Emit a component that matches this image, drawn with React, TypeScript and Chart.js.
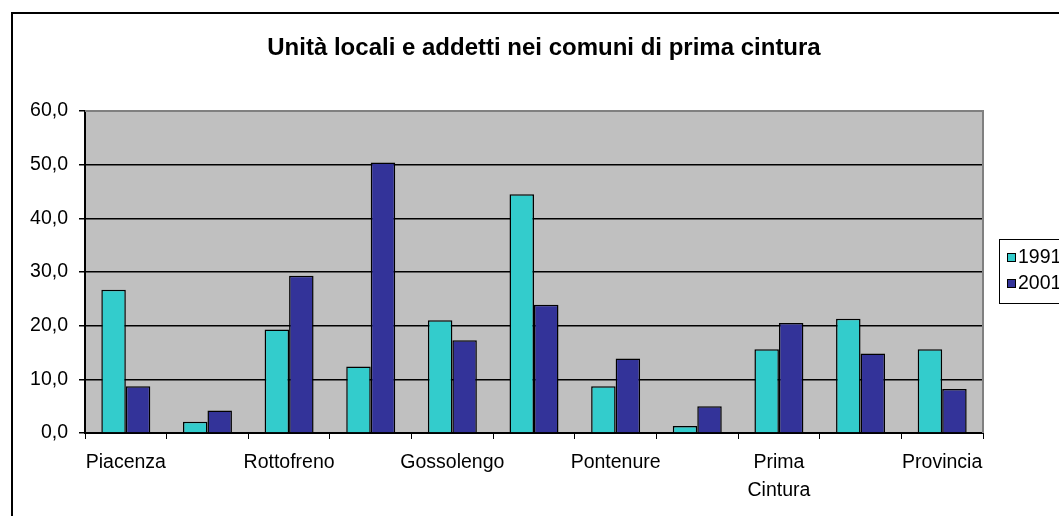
import React, { useEffect, useRef } from "react";
import { Chart, registerables } from "chart.js";

Chart.register(...registerables);

const TITLE = "Unità locali e addetti nei comuni di prima cintura";
const categories: (string | string[])[] = [
  "Piacenza",
  "",
  "Rottofreno",
  "",
  "Gossolengo",
  "",
  "Pontenure",
  "",
  ["Prima", "Cintura"],
  "",
  "Provincia",
];
const series1991 = [26.7, 2.1, 19.3, 12.4, 21.0, 44.5, 8.7, 1.3, 15.6, 21.3, 15.6];
const series2001 = [8.7, 4.2, 29.3, 50.4, 17.3, 23.9, 13.9, 5.0, 20.5, 14.8, 8.2];
const seriesLabels = ["1991", "2001"];
const seriesColors = ["#33CCCC", "#333399"];
const yTicks = [0, 10, 20, 30, 40, 50, 60];

const FONT = "'Liberation Sans', Arial, sans-serif";
const LABEL_SIZE = 19.5;

const plotBgPlugin = {
  id: "plotBg",
  beforeDraw(chart: any) {
    const { ctx, chartArea } = chart;
    ctx.save();
    ctx.fillStyle = "#C0C0C0";
    ctx.fillRect(chartArea.left, chartArea.top, chartArea.right - chartArea.left, chartArea.bottom - chartArea.top);
    ctx.restore();
  },
  afterDraw(chart: any) {
    const { ctx, chartArea } = chart;
    ctx.save();
    ctx.strokeStyle = "#808080";
    ctx.lineWidth = 2;
    ctx.beginPath();
    ctx.moveTo(chartArea.left, chartArea.top);
    ctx.lineTo(chartArea.right, chartArea.top);
    ctx.lineTo(chartArea.right, chartArea.bottom);
    ctx.stroke();
    // title, centred on the whole chart object
    ctx.fillStyle = "#000";
    ctx.font = `bold 24px ${FONT}`;
    ctx.textAlign = "center";
    ctx.textBaseline = "middle";
    ctx.fillText(TITLE, chart.width / 2, 34);
    ctx.restore();
  },
};

const legendPlugin = {
  id: "customLegend",
  afterDraw(chart: any) {
    const { ctx } = chart;
    const x = 986;
    const y = 225;
    ctx.save();
    ctx.fillStyle = "#fff";
    ctx.fillRect(x, y, 100, 64);
    ctx.strokeStyle = "#000";
    ctx.lineWidth = 1;
    ctx.strokeRect(x + 0.5, y + 0.5, 100, 64);
    chart.data.datasets.forEach((ds: any, i: number) => {
      const cy = 243 + i * 26;
      ctx.fillStyle = ds.backgroundColor;
      ctx.fillRect(994, cy - 4, 8, 8);
      ctx.strokeStyle = "#000";
      ctx.strokeRect(994.5, cy - 3.5, 8, 8);
      ctx.fillStyle = "#000";
      ctx.font = `${LABEL_SIZE}px ${FONT}`;
      ctx.textBaseline = "middle";
      ctx.textAlign = "left";
      ctx.fillText(ds.label, 1005, cy + 1);
    });
    ctx.restore();
  },
};

export default function App() {
  const ref = useRef<HTMLCanvasElement | null>(null);

  useEffect(() => {
    if (!ref.current) return;
    const chart = new Chart(ref.current, {
      type: "bar",
      data: {
        labels: categories,
        datasets: [
          {
            label: seriesLabels[0],
            data: series1991,
            backgroundColor: seriesColors[0],
            borderColor: "#000",
            borderWidth: 1.5,
            categoryPercentage: 0.6,
            barPercentage: 1,
          },
          {
            label: seriesLabels[1],
            data: series2001,
            backgroundColor: seriesColors[1],
            borderColor: "#000",
            borderWidth: 1.5,
            categoryPercentage: 0.6,
            barPercentage: 1,
          },
        ],
      },
      options: {
        responsive: false,
        animation: false,
        layout: { padding: { top: 97, left: 0, right: 92, bottom: 0 } },
        plugins: {
          legend: { display: false },
          tooltip: { enabled: false },
          title: { display: false },
        },
        scales: {
          x: {
            offset: true,
            grid: {
              offset: true,
              drawOnChartArea: false,
              drawTicks: true,
              tickLength: 6,
              tickColor: "#000",
              color: "#000",
            },
            border: { display: true, color: "#000", width: 2 },
            ticks: {
              autoSkip: false,
              maxRotation: 0,
              minRotation: 0,
              color: "#000",
              padding: 10,
              font: { family: FONT, size: LABEL_SIZE, lineHeight: 28 / LABEL_SIZE },
            },
            afterFit(scale: any) {
              scale.height = 91;
            },
          },
          y: {
            min: 0,
            max: 60,
            afterBuildTicks(scale: any) {
              scale.ticks = yTicks.map((v) => ({ value: v }));
            },
            grid: {
              color: (c: any) => (c.tick && c.tick.value === 60 ? "rgba(0,0,0,0)" : "#000"),
              lineWidth: 1.5,
              drawTicks: true,
              tickLength: 6,
              tickColor: "#000",
              tickWidth: 1.5,
            },
            border: { display: true, color: "#000", width: 2 },
            ticks: {
              color: "#000",
              padding: 11,
              font: { family: FONT, size: LABEL_SIZE },
              callback: (v: any) => Number(v).toFixed(1).replace(".", ","),
            },
            afterFit(scale: any) {
              scale.width = 72;
            },
          },
        },
      },
      plugins: [plotBgPlugin, legendPlugin],
    });
    return () => chart.destroy();
  }, []);

  return (
    <div style={{ position: "fixed", left: 0, top: 0, width: 1059, height: 516, overflow: "hidden", background: "#fff" }}>
      <div
        style={{
          position: "absolute",
          left: 11,
          top: 12,
          width: 1066,
          height: 520,
          border: "2px solid #000",
          boxSizing: "border-box",
          background: "#fff",
        }}
      >
        <canvas ref={ref} width={1062} height={510} style={{ display: "block", width: 1062, height: 510 }} />
      </div>
    </div>
  );
}
